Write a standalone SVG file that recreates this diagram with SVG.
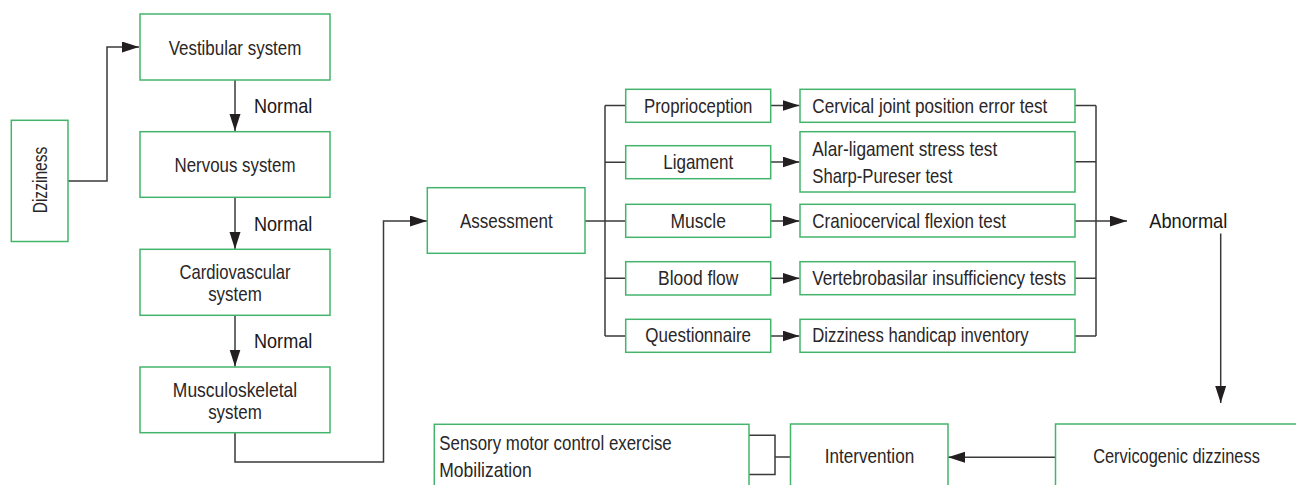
<svg xmlns="http://www.w3.org/2000/svg" width="1296" height="485" viewBox="0 0 1296 485">
<defs>
<style>
.box{fill:#fff;stroke:#44b46c;stroke-width:1.5}
.ln{fill:none;stroke:#3a3a3a;stroke-width:1.5}
text{font-family:"Liberation Sans",Arial,sans-serif;font-size:21px;fill:#2a2627}
.c{text-anchor:middle}
.lbl{fill:#1a1718}
</style>
<marker id="ah" markerUnits="userSpaceOnUse" markerWidth="18" markerHeight="12" refX="17" refY="5.5" orient="auto">
<path d="M0,0 L17,5.5 L0,11 z" fill="#231f20"/>
</marker>
</defs>
<rect width="1296" height="485" fill="#fff"/>

<g id="connectors">
<path class="ln" d="M68,181 H107 V47 H139" marker-end="url(#ah)"/>
<path class="ln" d="M235,80 V131" marker-end="url(#ah)"/>
<path class="ln" d="M235,197 V249" marker-end="url(#ah)"/>
<path class="ln" d="M235,315 V366.5" marker-end="url(#ah)"/>
<path class="ln" d="M235,433 V462 H383.5 V221 H427" marker-end="url(#ah)"/>
<path class="ln" d="M585,221 H605"/>
<path class="ln" d="M605,105.5 V336"/>
<path class="ln" d="M605,105.5 H626 M605,162.2 H626 M605,221 H626 M605,278.3 H626 M605,336 H626"/>
<path class="ln" d="M771,105.5 H799.5" marker-end="url(#ah)"/>
<path class="ln" d="M771,162 H799.5" marker-end="url(#ah)"/>
<path class="ln" d="M771,221 H799.5" marker-end="url(#ah)"/>
<path class="ln" d="M771,278.3 H799.5" marker-end="url(#ah)"/>
<path class="ln" d="M771,336 H799.5" marker-end="url(#ah)"/>
<path class="ln" d="M1075,105.5 H1096 M1075,161.7 H1096 M1075,221 H1096 M1075,278.3 H1096 M1075,336 H1096"/>
<path class="ln" d="M1096,105.5 V336"/>
<path class="ln" d="M1096,221 H1127" marker-end="url(#ah)"/>
<path class="ln" d="M1220.7,233.5 V403" marker-end="url(#ah)"/>
<path class="ln" d="M1055.5,457.3 H948" marker-end="url(#ah)"/>
<path class="ln" d="M749,435.3 H775 V474.5 H749 M775,457 H790.5"/>
</g>

<g id="label-normal-1"><text class="lbl" x="254" y="112.7" textLength="58.3" lengthAdjust="spacingAndGlyphs">Normal</text></g>
<g id="label-normal-2"><text class="lbl" x="254" y="230.7" textLength="58.3" lengthAdjust="spacingAndGlyphs">Normal</text></g>
<g id="label-normal-3"><text class="lbl" x="254" y="348.3" textLength="58.3" lengthAdjust="spacingAndGlyphs">Normal</text></g>
<g id="label-abnormal"><text class="lbl" x="1149.3" y="227.7" textLength="78" lengthAdjust="spacingAndGlyphs">Abnormal</text></g>

<g id="dizziness">
<rect class="box" x="11.3" y="120.3" width="56.7" height="121.2"/>
<text class="c" transform="translate(46.5,180) rotate(-90)" x="0" y="0" textLength="66.7" lengthAdjust="spacingAndGlyphs">Dizziness</text>
</g>
<g id="vestibular">
<rect class="box" x="140" y="14" width="190" height="66"/>
<text class="c" x="235" y="55" textLength="132.7" lengthAdjust="spacingAndGlyphs">Vestibular system</text>
</g>
<g id="nervous">
<rect class="box" x="140" y="131.7" width="190" height="65.6"/>
<text class="c" x="235" y="171.7" textLength="121" lengthAdjust="spacingAndGlyphs">Nervous system</text>
</g>
<g id="cardiovascular">
<rect class="box" x="140" y="249.3" width="190" height="66"/>
<text class="c" x="235" y="279.3" textLength="111" lengthAdjust="spacingAndGlyphs">Cardiovascular</text>
<text class="c" x="235" y="300.7" textLength="53.7" lengthAdjust="spacingAndGlyphs">system</text>
</g>
<g id="musculoskeletal">
<rect class="box" x="140" y="367" width="190" height="65.7"/>
<text class="c" x="235" y="396.7" textLength="124.3" lengthAdjust="spacingAndGlyphs">Musculoskeletal</text>
<text class="c" x="235" y="418.7" textLength="53.7" lengthAdjust="spacingAndGlyphs">system</text>
</g>
<g id="assessment">
<rect class="box" x="427.3" y="187.7" width="157.7" height="65.6"/>
<text class="c" x="506.3" y="227.7" textLength="92.7" lengthAdjust="spacingAndGlyphs">Assessment</text>
</g>

<g id="proprioception">
<rect class="box" x="625.7" y="89.3" width="145" height="33"/>
<text class="c" x="698.2" y="113.3" textLength="108.3" lengthAdjust="spacingAndGlyphs">Proprioception</text>
</g>
<g id="ligament">
<rect class="box" x="625.7" y="145.7" width="145" height="33"/>
<text class="c" x="698.2" y="169.3" textLength="70" lengthAdjust="spacingAndGlyphs">Ligament</text>
</g>
<g id="muscle">
<rect class="box" x="625.7" y="204.3" width="145" height="33"/>
<text class="c" x="698.2" y="227.7" textLength="55.3" lengthAdjust="spacingAndGlyphs">Muscle</text>
</g>
<g id="bloodflow">
<rect class="box" x="625.7" y="261.7" width="145" height="33.3"/>
<text class="c" x="698.2" y="285" textLength="80.3" lengthAdjust="spacingAndGlyphs">Blood flow</text>
</g>
<g id="questionnaire">
<rect class="box" x="625.7" y="319.3" width="145" height="33"/>
<text class="c" x="698.2" y="342.3" textLength="105.7" lengthAdjust="spacingAndGlyphs">Questionnaire</text>
</g>

<g id="cervical-jpe">
<rect class="box" x="800" y="89.3" width="275" height="33"/>
<text x="812.3" y="113.3" textLength="235" lengthAdjust="spacingAndGlyphs">Cervical joint position error test</text>
</g>
<g id="alar">
<rect class="box" x="800" y="131.7" width="275" height="60.3"/>
<text x="812.3" y="156" textLength="185" lengthAdjust="spacingAndGlyphs">Alar-ligament stress test</text>
<text x="812.3" y="182.7" textLength="140" lengthAdjust="spacingAndGlyphs">Sharp-Pureser test</text>
</g>
<g id="craniocervical">
<rect class="box" x="800" y="204.3" width="275" height="32.7"/>
<text x="812.3" y="227.7" textLength="193.7" lengthAdjust="spacingAndGlyphs">Craniocervical flexion test</text>
</g>
<g id="vertebrobasilar">
<rect class="box" x="800" y="261.7" width="275" height="33"/>
<text x="812.3" y="285" textLength="253.7" lengthAdjust="spacingAndGlyphs">Vertebrobasilar insufficiency tests</text>
</g>
<g id="dhi">
<rect class="box" x="800" y="319.3" width="275" height="33"/>
<text x="812.3" y="342.3" textLength="216.3" lengthAdjust="spacingAndGlyphs">Dizziness handicap inventory</text>
</g>

<g id="cervicogenic">
<rect class="box" x="1055.5" y="424" width="241.5" height="62"/>
<text class="c" x="1176.5" y="463.3" textLength="166.7" lengthAdjust="spacingAndGlyphs">Cervicogenic dizziness</text>
</g>
<g id="intervention">
<rect class="box" x="790.5" y="424" width="157.5" height="62"/>
<text class="c" x="869.5" y="463.3" textLength="89.4" lengthAdjust="spacingAndGlyphs">Intervention</text>
</g>
<g id="exercise">
<rect class="box" x="434.3" y="424.3" width="314.7" height="61.7"/>
<text x="439.3" y="450" textLength="232.4" lengthAdjust="spacingAndGlyphs">Sensory motor control exercise</text>
<text x="439.3" y="476.7" textLength="92.4" lengthAdjust="spacingAndGlyphs">Mobilization</text>
</g>
</svg>
